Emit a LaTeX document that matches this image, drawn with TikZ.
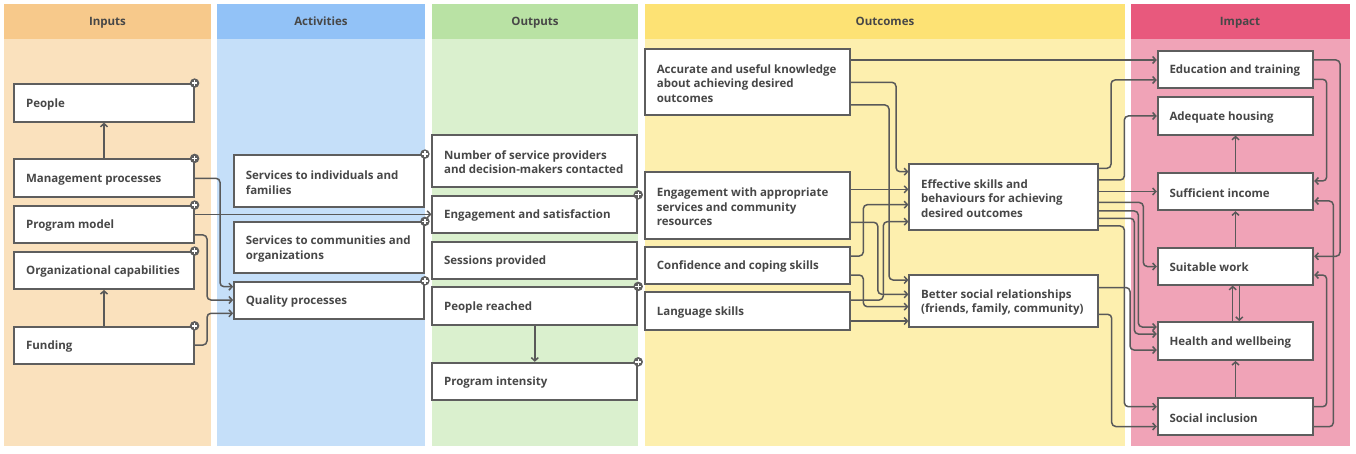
\documentclass[tikz,border=0pt]{standalone}
\usepackage{fontspec}
\setmainfont{Open Sans}
\usetikzlibrary{arrows.meta,calc}
\definecolor{inH}{HTML}{F7C98B}
\definecolor{inB}{HTML}{FAE1BD}
\definecolor{acH}{HTML}{92C2F7}
\definecolor{acB}{HTML}{C5DFF9}
\definecolor{ouH}{HTML}{B9E2A4}
\definecolor{ouB}{HTML}{DAF0CE}
\definecolor{ocH}{HTML}{FDE274}
\definecolor{ocB}{HTML}{FDEFAE}
\definecolor{imH}{HTML}{E8597D}
\definecolor{imB}{HTML}{F0A3B7}
\definecolor{linec}{HTML}{595959}
\definecolor{boxc}{HTML}{5E5E5E}
\definecolor{txtc}{HTML}{474747}
\newcommand{\lmbox}[6]{%
  \node[box,minimum width={(#4-#2)*1pt},minimum height={(#5-#3)*1pt}] (#1) at ({(#2+#4)/2},{(#3+#5)/2}) {};
  \node[txt] (#1-t) at ([xshift=12.5pt,yshift=-1.3pt]#1.west) {#6};}
\newcommand{\lmplus}[1]{\node[plus] (#1-p) at (#1.north east) {};}
\begin{document}
\begin{tikzpicture}[x=1pt,y=-1pt,
  box/.style={draw=boxc,line width=1.8pt,fill=white,inner sep=0pt},
  txt/.style={anchor=west,align=left,inner sep=0pt,text=txtc,font=\bfseries\fontsize{11.5}{14.5}\selectfont},
  hdr/.style={anchor=base,text=txtc,font=\bfseries\fontsize{11.5}{13}\selectfont},
  plus/.style={circle,fill=boxc,inner sep=0pt,minimum size=9.5pt,
    path picture={\draw[white,line width=1.4pt]
      ([xshift=-2.8pt]path picture bounding box.center) -- ([xshift=2.8pt]path picture bounding box.center)
      ([yshift=-2.8pt]path picture bounding box.center) -- ([yshift=2.8pt]path picture bounding box.center);}},
  conn/.style={draw=linec,line width=1.5pt,rounded corners=4pt,-{Straight Barb[length=3.2pt,width=7pt]}}]
\useasboundingbox (0,0) rectangle (1356,454);
\fill[white] (0,0) rectangle (1356,454);
% panels
\fill[inB] (4,4) rectangle (211,445.5);
\fill[inH] (4,4) rectangle (211,38.7);
\fill[acB] (217,4) rectangle (425,445.5);
\fill[acH] (217,4) rectangle (425,38.7);
\fill[ouB] (432,4) rectangle (638,445.5);
\fill[ouH] (432,4) rectangle (638,38.7);
\fill[ocB] (645,4) rectangle (1125,445.5);
\fill[ocH] (645,4) rectangle (1125,38.7);
\fill[imB] (1131,4) rectangle (1349.5,445.5);
\fill[imH] (1131,4) rectangle (1349.5,38.7);
\node[hdr] (h-in) at (107.5,25.3) {Inputs};
\node[hdr] (h-ac) at (321,25.3) {Activities};
\node[hdr] (h-ou) at (535,25.3) {Outputs};
\node[hdr] (h-oc) at (885,25.3) {Outcomes};
\node[hdr] (h-im) at (1240,25.3) {Impact};
% Inputs
\lmbox{people}{14.3}{84}{193.7}{121.7}{People}
\lmbox{mgmt}{14.3}{159.3}{193.7}{197}{Management processes}
\lmbox{prog}{14.3}{206}{193.7}{243.3}{Program model}
\lmbox{orgc}{14.3}{252}{193.7}{289}{Organizational capabilities}
\lmbox{fund}{14.3}{326.7}{193.7}{364.3}{Funding}
% Activities
\lmbox{sind}{234}{155}{424}{207.3}{Services to individuals and\\families}
\lmbox{scom}{234}{222.3}{424}{273.3}{Services to communities and\\organizations}
\lmbox{qual}{234}{281.7}{424}{319.3}{Quality processes}
% Outputs
\lmbox{nsp}{432.3}{135}{637.3}{187}{Number of service providers\\and decision-makers contacted}
\lmbox{eng}{432.3}{195.7}{637.3}{233.3}{Engagement and satisfaction}
\lmbox{sess}{432.3}{242}{637.3}{279}{Sessions provided}
\lmbox{reach}{432.3}{287.3}{637.3}{325}{People reached}
\lmbox{inten}{432.3}{362.7}{637.3}{400.3}{Program intensity}
% Outcomes
\lmbox{acc}{645}{49}{850.3}{115.3}{Accurate and useful knowledge\\about achieving desired\\outcomes}
\lmbox{engw}{645}{172.3}{850.3}{238.7}{Engagement with appropriate\\services and community\\resources}
\lmbox{conf}{645}{247}{850.3}{283.7}{Confidence and coping skills}
\lmbox{lang}{645}{292.3}{850.3}{330}{Language skills}
\lmbox{eff}{909.3}{164}{1098}{230}{Effective skills and\\behaviours for achieving\\desired outcomes}
\lmbox{bsr}{909.3}{275.3}{1098}{327}{Better social relationships\\(friends, family, community)}
% Impact
\lmbox{edu}{1157.7}{51}{1313.3}{88.3}{Education and training}
\lmbox{hous}{1157.7}{97}{1313.3}{134.7}{Adequate housing}
\lmbox{suff}{1157.7}{172.7}{1313.3}{210.3}{Sufficient income}
\lmbox{work}{1157.7}{247.7}{1313.3}{284.7}{Suitable work}
\lmbox{heal}{1157.7}{322}{1313.3}{360}{Health and wellbeing}
\lmbox{soc}{1157.7}{397.7}{1313.3}{435.3}{Social inclusion}
% Inputs connectors
\draw[conn] (mgmt.north) -- (people.south);
\draw[conn] (fund.north) -- (orgc.south);
\draw[conn] (mgmt.east |- 0,178.3) -| (220,286.7) -- (qual.west |- 0,286.7);
\draw[conn] (prog.east |- 0,214.3) -- (eng.west |- 0,214.3);
\draw[conn] (prog.east |- 0,235) -| (207,300) -- (qual.west |- 0,300);
\draw[conn] (fund.east |- 0,345) -| (207,313.3) -- (qual.west |- 0,313.3);
% Outputs
\draw[conn] (reach.south) -- (inten.north);
% Outcomes
\draw[conn] (acc.east |- 0,60) -- (edu.west |- 0,60);
\draw[conn] (acc.east |- 0,82.3) -| (896,171.7) -- (eff.west |- 0,171.7);
\draw[conn] (acc.east |- 0,105) -| (889,280) -- (bsr.west |- 0,280);
\draw[conn] (engw.east |- 0,189.3) -- (eff.west |- 0,189.3);
\draw[conn] (engw.east |- 0,222.3) -| (877.8,294.3) -- (bsr.west |- 0,294.3);
\draw[conn] (conf.east |- 0,256) -| (863.3,204.7) -- (eff.west |- 0,204.7);
\draw[conn] (conf.east |- 0,275) -| (863.3,306.7) -- (bsr.west |- 0,306.7);
\draw[conn] (lang.east |- 0,300) -| (883.3,221.7) -- (eff.west |- 0,221.7);
\draw[conn] (lang.east |- 0,321) -- (bsr.west |- 0,321);
% Effective / Better -> Impact
\draw[conn] (eff.east |- 0,168.3) -| (1111,80) -- (edu.west |- 0,80);
\draw[conn] (eff.east |- 0,180) -| (1124.3,116) -- (hous.west |- 0,116);
\draw[conn] (eff.east |- 0,191.5) -- (suff.west |- 0,191.5);
\draw[conn] (eff.east |- 0,202.5) -| (1143.3,266.5) -- (work.west |- 0,266.5);
\draw[conn] (eff.east |- 0,211) -| (1138.3,327) -- (heal.west |- 0,327);
\draw[conn] (eff.east |- 0,218.3) -| (1134.3,334) -- (heal.west |- 0,334);
\draw[conn] (eff.east |- 0,226) -| (1124.3,406.7) -- (soc.west |- 0,406.7);
\draw[conn] (bsr.east |- 0,287.5) -| (1130,350) -- (heal.west |- 0,350);
\draw[conn] (bsr.east |- 0,314.3) -| (1111.7,426.5) -- (soc.west |- 0,426.5);
% Impact internal
\draw[conn] (suff.north) -- (hous.south);
\draw[conn] (work.north) -- (suff.south);
\draw[conn] ([xshift=-2.8pt]heal.north) -- ([xshift=-2.8pt]work.south);
\draw[conn] ([xshift=3.8pt]work.south) -- ([xshift=3.8pt]heal.north);
\draw[conn] (soc.north) -- (heal.south);
\draw[conn] (edu.east |- 0,79.3) -| (1326.7,181) -- (suff.east |- 0,181);
\draw[conn] (edu.east |- 0,60) -| (1340,256.3) -- (work.east |- 0,256.3);
\draw[conn] (soc.east |- 0,426.7) -| (1333.3,201) -- (suff.east |- 0,201);
\draw[conn] (soc.east |- 0,406.7) -| (1326.7,275) -- (work.east |- 0,275);
% plus markers
\lmplus{people}\lmplus{mgmt}\lmplus{prog}\lmplus{orgc}\lmplus{fund}
\lmplus{sind}\lmplus{scom}\lmplus{qual}
\lmplus{eng}\lmplus{reach}\lmplus{inten}
\end{tikzpicture}
\end{document}
